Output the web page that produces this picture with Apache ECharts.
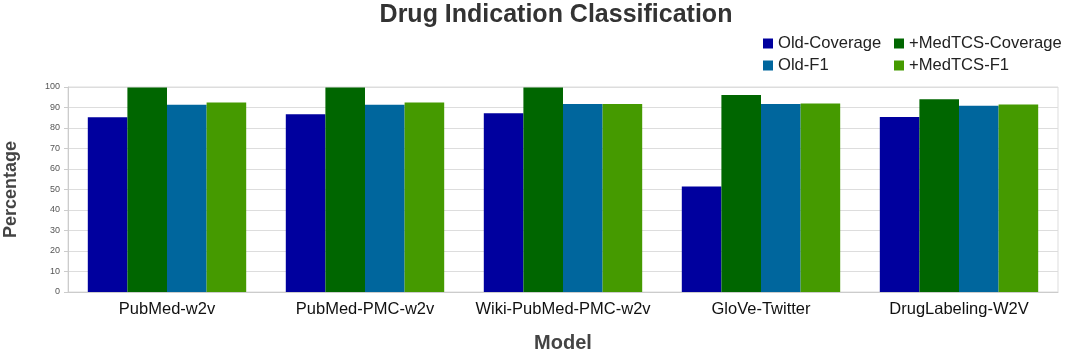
<!DOCTYPE html>
<html>
<head>
<meta charset="utf-8">
<script src="https://cdn.jsdelivr.net/npm/echarts@6/dist/echarts.min.js"></script>
<style>
  html, body { margin: 0; padding: 0; background: #fff; }
  #chart { width: 1065px; height: 353px; }
</style>
</head>
<body>
<div id="chart"></div>
<script>
// data
const models = ['PubMed-w2v', 'PubMed-PMC-w2v', 'Wiki-PubMed-PMC-w2v', 'GloVe-Twitter', 'DrugLabeling-W2V']
const oldCoverage = [85.3, 86.7, 87.2, 51.5, 85.4]
const medCoverage = [99.8, 99.8, 99.8, 96.1, 94.0]
const oldF1 = [91.4, 91.4, 91.7, 91.7, 90.8]
const medF1 = [92.4, 92.4, 91.7, 91.9, 91.5]
const yTicks = [0, 10, 20, 30, 40, 50, 60, 70, 80, 90, 100]

const seriesNames = ['Old-Coverage', '+MedTCS-Coverage', 'Old-F1', '+MedTCS-F1']
const seriesData = [oldCoverage, medCoverage, oldF1, medF1]
const colors = ['#00009e', '#006600', '#00669d', '#459a00']

const chart = echarts.init(document.getElementById('chart'))

const legendText = {
  fontFamily: 'Liberation Sans',
  fontSize: 16.6,
  color: '#222'
}

const option = {
  animation: false,
  title: {
    text: 'Drug Indication Classification',
    left: 551,
    textAlign: 'center',
    top: -2,
    textStyle: {
      fontFamily: 'Liberation Sans',
      fontSize: 25,
      fontWeight: 'bold',
      color: '#333'
    }
  },
  legend: [
    {
      data: [seriesNames[0], seriesNames[2]],
      orient: 'vertical',
      left: 763,
      top: 35,
      padding: 0,
      itemWidth: 10,
      itemHeight: 10,
      itemGap: 5,
      icon: 'rect',
      textStyle: legendText
    },
    {
      data: [seriesNames[1], seriesNames[3]],
      orient: 'vertical',
      left: 894,
      top: 35,
      padding: 0,
      itemWidth: 10,
      itemHeight: 10,
      itemGap: 5,
      icon: 'rect',
      textStyle: legendText
    }
  ],
  grid: {
    left: 68,
    right: 7,
    top: 87,
    bottom: 61,
    outerBoundsMode: 'none',
    containLabel: false,
    show: true,
    borderColor: '#ddd',
    borderWidth: 1
  },
  xAxis: {
    type: 'category',
    data: models,
    name: 'Model',
    nameLocation: 'middle',
    nameGap: 41,
    nameTextStyle: {
      fontFamily: 'Liberation Sans',
      fontSize: 20,
      fontWeight: 'bold',
      color: '#444'
    },
    axisLine: { lineStyle: { color: '#ccc' } },
    axisTick: { length: 5, lineStyle: { color: '#ccc' } },
    axisLabel: {
      interval: 0,
      fontFamily: 'Liberation Sans',
      fontSize: 16.5,
      color: '#111',
      margin: 9
    }
  },
  yAxis: {
    type: 'value',
    min: yTicks[0],
    max: yTicks[yTicks.length - 1],
    interval: 10,
    name: 'Percentage',
    nameLocation: 'middle',
    nameGap: 48,
    nameTextStyle: {
      fontFamily: 'Liberation Sans',
      fontSize: 18,
      fontWeight: 'bold',
      color: '#444'
    },
    axisLine: { show: true, lineStyle: { color: '#ccc' } },
    axisTick: { show: true, length: 4, lineStyle: { color: '#ccc' } },
    splitLine: { lineStyle: { color: '#ddd' } },
    axisLabel: {
      fontFamily: 'Liberation Sans',
      fontSize: 9,
      color: '#555',
      margin: 8
    }
  },
  series: seriesNames.map((name, i) => {
    return {
      name: name,
      type: 'bar',
      data: seriesData[i],
      barGap: '0%',
      barCategoryGap: '20%',
      itemStyle: { color: colors[i] }
    }
  })
}

chart.setOption(option)
</script>
</body>
</html>
